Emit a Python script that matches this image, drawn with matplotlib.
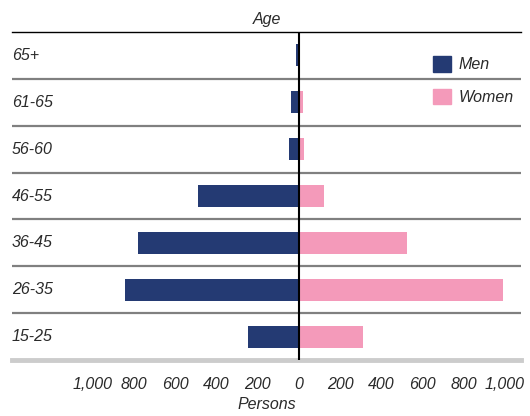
import matplotlib
matplotlib.use("Agg")
import matplotlib.pyplot as plt
import matplotlib.patches as patches
from matplotlib.ticker import FuncFormatter

# age groups, bottom to top
ages = ["15-25", "26-35", "36-45", "46-55", "56-60", "61-65", "65+"]
men = [245, 845, 780, 490, 50, 40, 15]
women = [310, 990, 525, 120, 25, 20, 0]
ticks = [-1000, -800, -600, -400, -200, 0, 200, 400, 600, 800, 1000]

men_color = '#243a73'
women_color = '#f49aba'
text_color = '#2a2a2a'

plt.rcParams['font.family'] = ['Liberation Sans', 'DejaVu Sans']
plt.rcParams['font.style'] = 'italic'

fig = plt.figure(figsize=(5.3, 4.16), dpi=100)
ax = fig.add_axes([12 / 530, 1 - 360 / 416, 509 / 530, 328 / 416])

y = range(len(ages))
ax.barh(y, [-m for m in men], height=0.47, color=men_color, label='Men')
ax.barh(y, women, height=0.47, color=women_color, label='Women')

ax.set_xlim(-1393, 1078)
ax.set_ylim(-0.5, len(ages) - 0.5)

# row separators
for k in range(1, len(ages)):
    ax.axhline(k - 0.5, color='#808080', linewidth=1.6, zorder=0)

ax.axvline(0, color='black', linewidth=1.5, zorder=3)

# category labels drawn inside the plot on the left
for i, name in enumerate(ages):
    ax.text(0.0, i, name, transform=ax.get_yaxis_transform(), ha='left', va='center',
            fontsize=11.5, color=text_color)

ax.set_yticks([])
ax.set_xticks(ticks)
ax.xaxis.set_major_formatter(FuncFormatter(lambda v, p: f'{abs(int(v)):,}'))
ax.tick_params(axis='x', length=0, pad=12, labelsize=11.5, labelcolor=text_color)

for side in ['left', 'right']:
    ax.spines[side].set_visible(False)
ax.spines['top'].set_color('black')
ax.spines['top'].set_linewidth(1.0)
ax.spines['bottom'].set_color('#cccccc')
ax.spines['bottom'].set_linewidth(3.5)

ax.set_title('Age', fontsize=11.5, color=text_color, pad=6)
ax.set_xlabel('Persons', fontsize=11.5, color=text_color, labelpad=4)

handles = [patches.Patch(color=men_color, label='Men'),
           patches.Patch(color=women_color, label='Women')]
ax.legend(handles=handles, loc='upper left', bbox_to_anchor=(0.827, 0.926), frameon=False,
          fontsize=11.5, handlelength=1.1, handleheight=1.1, labelspacing=1.05,
          handletextpad=0.5, borderpad=0, borderaxespad=0, labelcolor=text_color)

fig.savefig('out.png', dpi=100)
